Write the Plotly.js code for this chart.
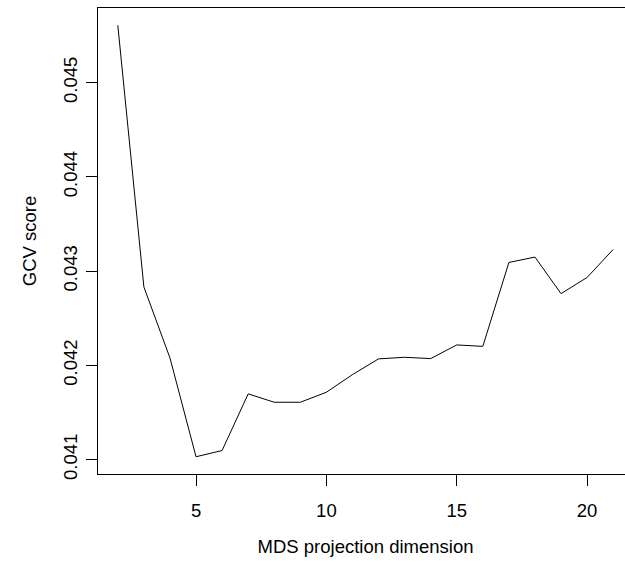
<!DOCTYPE html>
<html>
<head>
<meta charset="utf-8">
<script src="https://cdn.plot.ly/plotly-3.0.1.min.js"></script>
<style>
html, body { margin: 0; padding: 0; overflow: hidden; background: #fff; }
#chart { width: 640px; height: 565px; }
</style>
</head>
<body>
<div id="chart"></div>
<script>
// MDS projection dimension
var dims = [2, 3, 4, 5, 6, 7, 8, 9, 10, 11, 12, 13, 14, 15, 16, 17, 18, 19, 20, 21];
// GCV score
var gcv = [0.045608, 0.042832, 0.042079, 0.041031, 0.041097, 0.041698, 0.041609, 0.041609,
           0.041715, 0.041902, 0.042069, 0.042086, 0.042072, 0.042217, 0.042202, 0.043092,
           0.043149, 0.042761, 0.042933, 0.043230];
var xTicks = [5, 10, 15, 20];
var yTicks = [0.041, 0.042, 0.043, 0.044, 0.045];

function rRange(v) {
  var lo = Math.min.apply(null, v), hi = Math.max.apply(null, v);
  var d = (hi - lo) * 0.04;
  return [lo - d, hi + d];
}

var font = { family: 'Liberation Sans, Arial, Helvetica, sans-serif', size: 18.5, color: '#000' };

var trace = {
  x: dims, y: gcv, type: 'scatter', mode: 'lines',
  line: { color: '#000', width: 1 }, hoverinfo: 'skip'
};

var layout = {
  width: 640, height: 565,
  margin: { l: 98, r: 7, t: 8, b: 91 },
  paper_bgcolor: '#fff', plot_bgcolor: '#fff',
  showlegend: false,
  font: font,
  xaxis: {
    range: rRange(dims), tickvals: xTicks, ticktext: xTicks.map(String),
    ticks: 'outside', ticklen: 11, tickwidth: 1, tickcolor: '#000',
    showgrid: false, zeroline: false, showline: true, mirror: true, linecolor: '#000', linewidth: 1,
    tickfont: font, ticklabelstandoff: 9,
    title: { text: 'MDS projection dimension', font: font, standoff: 19 }
  },
  yaxis: {
    range: rRange(gcv), tickvals: yTicks, ticktext: yTicks.map(function (t) { return t.toFixed(3); }),
    ticks: 'outside', ticklen: 11, tickwidth: 1, tickcolor: '#000', tickangle: -90,
    showgrid: false, zeroline: false, showline: true, mirror: true, linecolor: '#000', linewidth: 1,
    tickfont: font, ticklabelstandoff: 2,
    title: { text: 'GCV score', font: font, standoff: 18 }
  }
};

Plotly.newPlot('chart', [trace], layout, { displayModeBar: false, staticPlot: true });
</script>
</body>
</html>
